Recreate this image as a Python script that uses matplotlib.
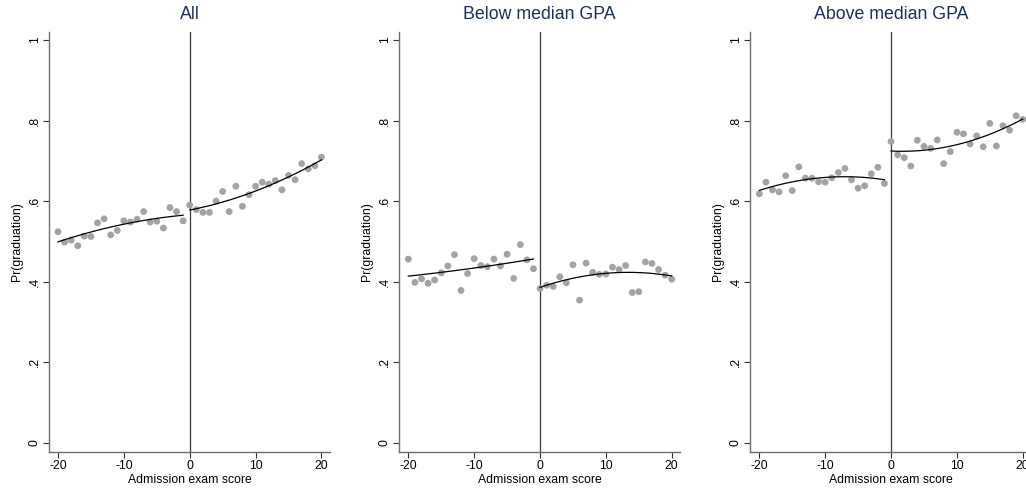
import numpy as np
import matplotlib
matplotlib.use("Agg")
import matplotlib.pyplot as plt

plt.rcParams['font.family'] = ['Liberation Sans', 'DejaVu Sans']

scores = list(range(-20, 21))
titles = ["All", "Below median GPA", "Above median GPA"]

pr_all = [0.524, 0.498, 0.503, 0.489, 0.513, 0.512, 0.546, 0.556, 0.516, 0.527,
          0.551, 0.548, 0.555, 0.574, 0.548, 0.550, 0.533, 0.584, 0.574, 0.551,
          0.590, 0.579, 0.572, 0.572, 0.600, 0.624, 0.574, 0.637, 0.587, 0.616,
          0.637, 0.647, 0.642, 0.651, 0.628, 0.664, 0.653, 0.693, 0.680, 0.688,
          0.709]
pr_below = [0.456, 0.398, 0.407, 0.396, 0.404, 0.422, 0.439, 0.467, 0.378, 0.420,
            0.457, 0.440, 0.437, 0.456, 0.439, 0.468, 0.408, 0.492, 0.454, 0.432,
            0.383, 0.391, 0.388, 0.412, 0.397, 0.442, 0.354, 0.446, 0.423, 0.418,
            0.419, 0.436, 0.430, 0.440, 0.373, 0.375, 0.449, 0.445, 0.430, 0.416,
            0.406]
pr_above = [0.618, 0.647, 0.628, 0.623, 0.663, 0.626, 0.685, 0.657, 0.657, 0.648,
            0.647, 0.658, 0.671, 0.681, 0.653, 0.632, 0.638, 0.668, 0.684, 0.644,
            0.748, 0.715, 0.708, 0.687, 0.751, 0.736, 0.731, 0.752, 0.693, 0.723,
            0.771, 0.767, 0.742, 0.762, 0.735, 0.793, 0.737, 0.787, 0.776, 0.812,
            0.803]
series = [pr_all, pr_below, pr_above]

yticks = [0, 0.2, 0.4, 0.6, 0.8, 1.0]
yticklabels = ["0", ".2", ".4", ".6", ".8", "1"]
xticks = [-20, -10, 0, 10, 20]

W, H = 1026, 494
fig = plt.figure(figsize=(W / 100, H / 100), dpi=100)
lefts = [49, 399.3, 750.3]
width = 281
top, bottom = 32, 451.7

title_color = "#1f2f5c"
pt_color = "#a3a3a3"
spine_color = "#6e6e6e"

for i in range(3):
    ax = fig.add_axes([lefts[i] / W, 1 - bottom / H, width / W, (bottom - top) / H])
    x = np.array(scores, dtype=float)
    y = np.array(series[i])
    ax.scatter(x, y, s=24, color=pt_color, edgecolors='none', zorder=3)
    for mask in (x < 0, x >= 0):
        c = np.polyfit(x[mask], y[mask], 2)
        xs = np.linspace(x[mask].min(), x[mask].max(), 100)
        ax.plot(xs, np.polyval(c, xs), color='black', lw=0.9, zorder=4)
    ax.axvline(0, color='#3a3a3a', lw=0.9, zorder=2)
    ax.set_xlim(-21.37, 21.3)
    ax.set_ylim(-0.0224, 1.02)
    ax.set_xticks(xticks)
    ax.set_xticklabels([str(t) for t in xticks], fontsize=8.8)
    ax.set_yticks(yticks)
    ax.set_yticklabels(yticklabels, fontsize=8.8, rotation=90, va='center')
    for s in ('top', 'right'):
        ax.spines[s].set_visible(False)
    for s in ('left', 'bottom'):
        ax.spines[s].set_color(spine_color)
        ax.spines[s].set_linewidth(1.0)
    ax.tick_params(direction='out', length=4, width=0.8, color='#333333', pad=2)
    ax.set_xlabel("Admission exam score", fontsize=8.8, labelpad=1.5)
    ax.set_ylabel("Pr(graduation)", fontsize=8.8, labelpad=4)
    ax.set_title(titles[i], fontsize=12.8, color=title_color, pad=9)

fig.savefig("out.png", dpi=100)
